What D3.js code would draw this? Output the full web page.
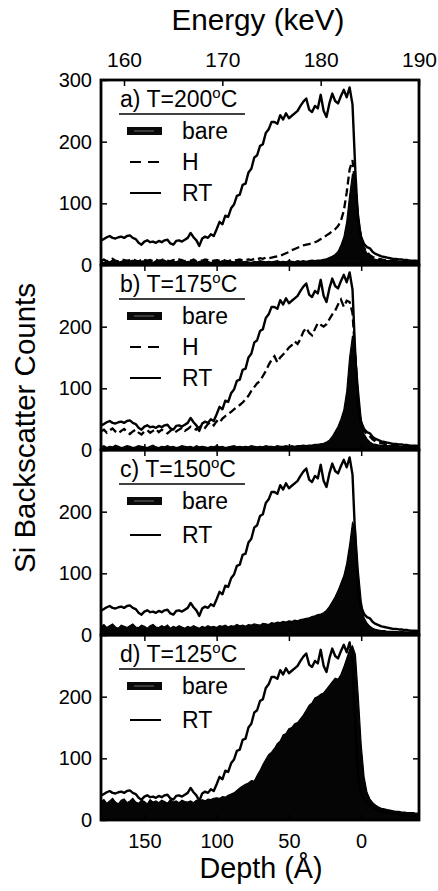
<!DOCTYPE html>
<html lang="en">
<head>
<meta charset="UTF-8" />
<title>Si Backscatter Counts</title>
<script src="https://d3js.org/d3.v7.min.js"></script>
<style>
  body { margin: 0; background: #fff; }
  svg { display: block; font-family: "Liberation Sans", Arial, sans-serif; }
</style>
</head>
<body>
<svg id="chart"></svg>
<script>
// depth grid (Å), 2 Å per channel
const depth = [
  180, 178, 176, 174, 172, 170, 168, 166, 164, 162,
  160, 158, 156, 154, 152, 150, 148, 146, 144, 142,
  140, 138, 136, 134, 132, 130, 128, 126, 124, 122,
  120, 118, 116, 114, 112, 110, 108, 106, 104, 102,
  100, 98, 96, 94, 92, 90, 88, 86, 84, 82,
  80, 78, 76, 74, 72, 70, 68, 66, 64, 62,
  60, 58, 56, 54, 52, 50, 48, 46, 44, 42,
  40, 38, 36, 34, 32, 30, 28, 26, 24, 22,
  20, 18, 16, 14, 12, 10, 8, 6, 4, 2,
  0, -2, -4, -6, -8, -10, -12, -14, -16, -18,
  -20, -22, -24, -26, -28, -30, -32, -34, -36, -38,
  -40
];

// RT reference spectrum (same in every panel)
const rtCounts = [
  40, 42, 45, 47, 44, 43, 45, 46, 44, 47,
  48, 44, 42, 36, 33, 38, 40, 37, 38, 36,
  39, 37, 40, 41, 35, 33, 39, 40, 38, 41,
  44, 52, 45, 40, 31, 43, 46, 44, 50, 47,
  58, 70, 66, 80, 78, 92, 98, 112, 114, 130,
  132, 150, 156, 174, 178, 193, 196, 214, 220, 232,
  232, 229, 243, 236, 246, 238, 242, 246, 250, 258,
  265, 270, 252, 248, 258, 254, 276, 250, 240, 262,
  278, 266, 262, 274, 284, 272, 288, 260, 150, 66,
  45, 34, 29, 27, 21, 18, 16, 14, 13, 12,
  11, 10, 10, 9, 9, 8, 8, 7, 7, 7,
  6
];

const bareA = [
  6, 4, 7, 5, 8, 5, 4, 6, 7, 5,
  6, 8, 5, 4, 6, 7, 5, 6, 4, 7,
  5, 6, 8, 5, 4, 6, 5, 7, 6, 4,
  6, 5, 7, 4, 6, 5, 7, 6, 4, 5,
  6, 5, 7, 5, 4, 6, 5, 6, 7, 5,
  6, 5, 4, 6, 5, 7, 6, 5, 6, 5,
  6, 7, 5, 6, 5, 7, 6, 5, 7, 6,
  7, 6, 7, 8, 7, 8, 8, 9, 10, 12,
  14, 17, 22, 32, 45, 70, 112, 148, 135, 85,
  47, 27, 19, 14, 11, 9, 8, 8, 7, 7,
  7, 6, 6, 6, 6, 5, 6, 5, 5, 5,
  5
];

const hA = [
  7, 9, 6, 8, 10, 7, 6, 9, 8, 7,
  8, 10, 7, 6, 8, 9, 7, 8, 6, 9,
  7, 8, 10, 7, 6, 8, 7, 9, 8, 6,
  8, 7, 9, 6, 8, 7, 9, 8, 6, 7,
  8, 7, 9, 7, 6, 8, 7, 8, 9, 7,
  8, 9, 8, 10, 9, 11, 10, 12, 11, 12,
  13, 14, 15, 17, 19, 21, 24, 26, 28, 30,
  32, 33, 34, 35, 37, 39, 42, 44, 48, 51,
  55, 58, 63, 72, 88, 118, 155, 170, 125, 72,
  44, 28, 21, 16, 13, 11, 10, 9, 8, 8,
  7, 7, 7, 6, 6, 6, 6, 6, 5, 5,
  5
];

const bareB = [
  5, 7, 4, 6, 5, 8, 6, 4, 5, 7,
  6, 4, 5, 7, 6, 5, 4, 6, 8, 5,
  4, 6, 5, 7, 5, 6, 4, 5, 7, 6,
  5, 6, 4, 7, 5, 6, 5, 4, 6, 5,
  7, 5, 6, 4, 5, 6, 7, 5, 6, 5,
  6, 5, 7, 6, 5, 6, 5, 7, 6, 6,
  5, 7, 6, 6, 7, 6, 7, 6, 7, 7,
  8, 7, 8, 8, 9, 9, 10, 11, 13, 16,
  22, 30, 38, 50, 65, 95, 150, 185, 160, 100,
  50, 26, 18, 13, 10, 9, 8, 8, 7, 7,
  7, 7, 6, 6, 6, 6, 6, 5, 6, 5,
  5
];

const hB = [
  30, 33, 28, 32, 35, 30, 27, 31, 34, 29,
  26, 30, 33, 28, 25, 30, 32, 28, 31, 34,
  29, 33, 30, 27, 31, 35, 30, 33, 36, 31,
  34, 38, 35, 33, 37, 40, 36, 42, 45, 40,
  47, 44, 51, 55, 58, 62, 66, 70, 73, 77,
  82, 88, 96, 102, 108, 112, 120, 128, 138, 146,
  152, 142, 150, 155, 160, 166, 170, 176, 172, 180,
  192, 198, 190, 186, 196, 206, 203, 200, 204, 212,
  220, 226, 236, 244, 232, 242, 240, 222, 150, 66,
  42, 31, 26, 22, 17, 14, 12, 11, 10, 9,
  9, 8, 8, 7, 7, 7, 6, 6, 6, 6,
  5
];

const bareC = [
  14, 17, 12, 15, 18, 13, 11, 16, 14, 12,
  15, 18, 13, 12, 16, 14, 11, 15, 17, 13,
  12, 15, 13, 16, 11, 14, 12, 15, 13, 11,
  14, 12, 15, 13, 11, 14, 12, 15, 13, 14,
  12, 15, 14, 16, 13, 15, 14, 17, 15, 16,
  14, 17, 16, 18, 17, 16, 19, 18, 17, 20,
  19, 21, 20, 22, 21, 23, 22, 24, 23, 25,
  26, 27, 28, 30, 31, 33, 34, 36, 40, 46,
  54, 62, 72, 84, 96, 116, 146, 182, 175, 105,
  55, 28, 19, 14, 11, 9, 8, 7, 7, 6,
  6, 6, 6, 5, 6, 5, 5, 5, 5, 5,
  5
];

const bareD = [
  30, 33, 27, 31, 35, 29, 26, 32, 34, 28,
  31, 35, 29, 27, 32, 30, 26, 33, 29, 31,
  28, 32, 30, 27, 33, 29, 31, 28, 32, 30,
  29, 31, 28, 32, 30, 33, 31, 34, 33, 35,
  36, 35, 38, 37, 40, 42, 44, 48, 52, 55,
  58, 60, 64, 63, 72, 80, 90, 98, 106, 110,
  116, 124, 128, 138, 140, 148, 150, 156, 158, 164,
  170, 178, 186, 190, 198, 200, 204, 206, 212, 218,
  224, 230, 228, 236, 248, 262, 276, 282, 268, 200,
  122, 70, 45, 34, 28, 24, 21, 19, 18, 17,
  16, 15, 14, 14, 13, 13, 12, 12, 12, 11,
  11
];

const panelLabels = ["a) T=200", "b) T=175", "c) T=150", "d) T=125"];
const countTicks = [0, 100, 200];
const depthTicks = [150, 100, 50, 0];
const energyTicks = [160, 170, 180, 190];

const panels = [
  { label: panelLabels[0], bare: bareA, h: hA },
  { label: panelLabels[1], bare: bareB, h: hB },
  { label: panelLabels[2], bare: bareC, h: null },
  { label: panelLabels[3], bare: bareD, h: null }
];

const W = 438, H = 891;
const left = 101, right = 419, top0 = 80, panelH = 185;

const svg = d3.select("#chart").attr("width", W).attr("height", H);

const x = d3.scaleLinear().domain([180, -40]).range([left, right]);
// energy axis on top: 160 keV sits at x=124, 190 keV at the right edge
const xE = d3.scaleLinear().domain([157.66, 190]).range([left, right]);

panels.forEach((p, i) => {
  const y0 = top0 + i * panelH;
  const y = d3.scaleLinear().domain([0, 300]).range([y0 + panelH, y0]);
  const g = svg.append("g");

  g.append("clipPath").attr("id", "clip" + i)
    .append("rect").attr("x", left).attr("y", y0).attr("width", right - left).attr("height", panelH);

  const plot = g.append("g").attr("clip-path", `url(#clip${i})`);

  const area = d3.area()
    .x((d, j) => x(depth[j]))
    .y0(y(0))
    .y1(d => y(d));
  const line = d3.line()
    .x((d, j) => x(depth[j]))
    .y(d => y(d));

  plot.append("path").datum(p.bare)
    .attr("d", area)
    .attr("fill", "#050505")
    .attr("stroke", "#000")
    .attr("stroke-width", 1.2);

  if (p.h) {
    plot.append("path").datum(p.h)
      .attr("d", line)
      .attr("fill", "none")
      .attr("stroke", "#000")
      .attr("stroke-width", 2.3)
      .attr("stroke-dasharray", "8,4");
  }

  plot.append("path").datum(rtCounts)
    .attr("d", line)
    .attr("fill", "none")
    .attr("stroke", "#000")
    .attr("stroke-width", 2.4)
    .attr("stroke-linejoin", "round");

  // axes, ticks pointing inward
  const yl = g.append("g").attr("transform", `translate(${left},0)`)
    .call(d3.axisLeft(y).tickValues(i === 0 ? countTicks.concat([300]) : countTicks)
      .tickSize(-6).tickPadding(9));
  const yr = g.append("g").attr("transform", `translate(${right},0)`)
    .call(d3.axisRight(y).tickValues([100, 200]).tickSize(-6).tickFormat(""));
  const xb = g.append("g").attr("transform", `translate(0,${y0 + panelH})`)
    .call(d3.axisBottom(x).tickValues(depthTicks).tickSize(-6).tickPadding(14)
      .tickFormat(i === 3 ? d3.format("d") : ""));
  let xt;
  if (i === 0) {
    xt = g.append("g").attr("transform", `translate(0,${y0})`)
      .call(d3.axisTop(xE).tickValues(energyTicks).tickSize(-6).tickPadding(13));
    xt.selectAll("text").attr("font-size", 21);
  } else {
    xt = g.append("g").attr("transform", `translate(0,${y0})`)
      .call(d3.axisTop(x).tickValues(depthTicks).tickSize(-6).tickFormat(""));
  }
  [yl, yr, xb, xt].forEach(a => {
    a.select(".domain").remove();
    a.selectAll("line").attr("stroke", "#000").attr("stroke-width", 1.5);
    a.selectAll("text").attr("fill", "#000").style("font-family", "'Liberation Sans', Arial, sans-serif");
  });
  yl.selectAll("text").attr("font-size", 20);
  xb.selectAll("text").attr("font-size", 20);

  g.append("rect")
    .attr("x", left).attr("y", y0)
    .attr("width", right - left).attr("height", panelH)
    .attr("fill", "none").attr("stroke", "#000").attr("stroke-width", 2.8);

  // legend
  const t = g.append("text").attr("x", 120).attr("y", y0 + 27).attr("font-size", 23);
  t.append("tspan").text(p.label);
  t.append("tspan").attr("dy", -9).attr("font-size", 15).text("o");
  t.append("tspan").attr("dy", 9).text("C");
  g.append("line").attr("x1", 119).attr("x2", 245)
    .attr("y1", y0 + 34).attr("y2", y0 + 34)
    .attr("stroke", "#000").attr("stroke-width", 1.4);

  const entries = p.h ? ["bare", "H", "RT"] : ["bare", "RT"];
  const step = p.h ? 31 : 34;
  entries.forEach((name, k) => {
    const cy = y0 + 51 + k * step;
    if (name === "bare") {
      g.append("rect").attr("x", 127).attr("y", cy - 4).attr("width", 35).attr("height", 8)
        .attr("fill", "#0a0a0a");
      g.append("rect").attr("x", 134).attr("y", cy - 1).attr("width", 20).attr("height", 2)
        .attr("fill", "#3a3a3a");
    } else {
      g.append("line").attr("x1", 130).attr("x2", 161).attr("y1", cy).attr("y2", cy)
        .attr("stroke", "#000").attr("stroke-width", 2)
        .attr("stroke-dasharray", name === "H" ? "11,7" : null);
    }
    g.append("text").attr("x", 182).attr("y", cy + 8).attr("font-size", 23).text(name);
  });
});

// titles
svg.append("text")
  .attr("x", 258).attr("y", 30)
  .attr("text-anchor", "middle")
  .attr("font-size", 29)
  .attr("textLength", 173).attr("lengthAdjust", "spacingAndGlyphs")
  .text("Energy (keV)");

svg.append("text")
  .attr("x", 261).attr("y", 878)
  .attr("text-anchor", "middle")
  .attr("font-size", 29)
  .attr("textLength", 123).attr("lengthAdjust", "spacingAndGlyphs")
  .text("Depth (Å)");

svg.append("text")
  .attr("transform", "translate(35,428) rotate(-90)")
  .attr("text-anchor", "middle")
  .attr("font-size", 29)
  .attr("textLength", 290).attr("lengthAdjust", "spacingAndGlyphs")
  .text("Si Backscatter Counts");
</script>
</body>
</html>
